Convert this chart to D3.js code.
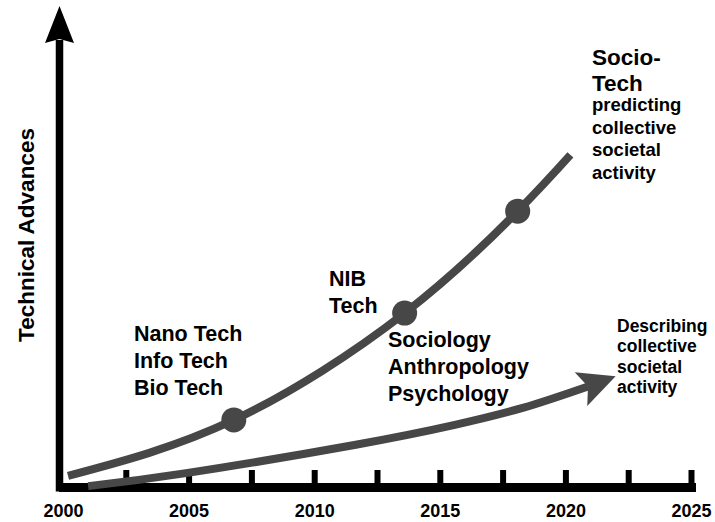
<!DOCTYPE html>
<html>
<head>
<meta charset="utf-8">
<script src="https://cdn.jsdelivr.net/npm/d3@7"></script>
<style>
    html, body { margin: 0; padding: 0; background: #fff; }
    svg { display: block; font-family: "Liberation Sans", Arial, Helvetica, sans-serif; font-weight: bold; }
</style>
</head>
<body>
<div id="chart"></div>
<script>
// chart values
const labelYears = [2000, 2005, 2010, 2015, 2020, 2025];
const tickYears = [2002.5, 2005, 2007.5, 2010, 2012.5, 2015, 2017.5, 2020, 2022.5, 2025];

// upper curve: socio-tech advances
const upperYears = [2000.2, 2006.8, 2013.6, 2018.1, 2020.2];
const upperValues = [2.5, 15.0, 38.9, 61.7, 74.3];
const milestoneYears = [2006.8, 2013.6, 2018.1];
const milestoneValues = [15.0, 38.9, 61.7];

// lower curve: describing collective activity (ends in an arrow)
const lowerYears = [2001.0, 2004.9, 2011.6, 2015.6, 2018.3, 2020.9];
const lowerValues = [0.2, 3.1, 9.4, 13.9, 17.7, 22.5];
const arrowTip = [2022.0, 24.8];

const yTitle = "Technical Advances";
const nanoLines = ["Nano Tech", "Info Tech", "Bio Tech"];
const nibLines = ["NIB", "Tech"];
const socialLines = ["Sociology", "Anthropology", "Psychology"];
const socioTitle = ["Socio-", "Tech"];
const socioLines = ["predicting", "collective", "societal", "activity"];
const describeLines = ["Describing", "collective", "societal", "activity"];

const width = 715;
const height = 522;
const curveColor = "#474747";

const svg = d3.select("#chart")
    .append("svg")
    .attr("width", width)
    .attr("height", height);

// scales
const x = d3.scaleLinear()
    .domain([2000, 2025])
    .range([63, 691]);
const y = d3.scaleLinear()
    .domain([0, 100])
    .range([487, 40]);

// y axis: thick bar with arrow head
const axisX = x.range()[0] - 3.5;
svg.append("line")
    .attr("x1", axisX)
    .attr("x2", axisX)
    .attr("y1", y(0) + 4.5)
    .attr("y2", y(100))
    .attr("stroke", "#000")
    .attr("stroke-width", 7.5);
svg.append("path")
    .attr("d", `M${axisX},6 L${axisX + 14.5},43 L${axisX},39 L${axisX - 14.5},43 Z`)
    .attr("fill", "#000");

// x axis: tick marks pointing up
const tickAxis = svg.append("g")
    .attr("transform", `translate(0,${y(0)})`)
    .call(d3.axisBottom(x)
        .tickValues(tickYears)
        .tickFormat("")
        .tickSizeInner(-17)
        .tickSizeOuter(0));
tickAxis.select(".domain")
    .attr("stroke", "#000")
    .attr("stroke-width", 9)
    .attr("stroke-linecap", "square");
tickAxis.selectAll(".tick line")
    .attr("stroke", "#000")
    .attr("stroke-width", 6);

// x axis labels
const labelAxis = svg.append("g")
    .attr("transform", `translate(0,${y(0)})`)
    .call(d3.axisBottom(x)
        .tickValues(labelYears)
        .tickFormat(d3.format("d"))
        .tickSize(0)
        .tickPadding(17));
labelAxis.select(".domain").remove();
labelAxis.selectAll(".tick text")
    .attr("fill", "#000")
    .attr("font-size", 18)
    .attr("font-weight", "bold")
    .attr("font-family", "'Liberation Sans', Arial, sans-serif");

// y title
svg.append("text")
    .attr("transform", "translate(34,235) rotate(-90)")
    .attr("text-anchor", "middle")
    .attr("font-size", 22.5)
    .attr("fill", "#000")
    .text(yTitle);

// curves
const line = d3.line()
    .x(d => x(d[0]))
    .y(d => y(d[1]))
    .curve(d3.curveNatural);

svg.append("path")
    .datum(d3.zip(upperYears, upperValues))
    .attr("d", line)
    .attr("fill", "none")
    .attr("stroke", curveColor)
    .attr("stroke-width", 8);

svg.selectAll(".milestone")
    .data(d3.zip(milestoneYears, milestoneValues))
    .join("circle")
    .attr("class", "milestone")
    .attr("cx", d => x(d[0]))
    .attr("cy", d => y(d[1]))
    .attr("r", 12.5)
    .attr("fill", curveColor);

const lowerData = d3.zip(lowerYears, lowerValues);
svg.append("path")
    .datum(lowerData)
    .attr("d", line)
    .attr("fill", "none")
    .attr("stroke", curveColor)
    .attr("stroke-width", 8);

// arrow head for the lower curve
const notch = lowerData[lowerData.length - 1];
const tx = x(arrowTip[0]), ty = y(arrowTip[1]);
const nx = x(notch[0]), ny = y(notch[1]);
const len = Math.hypot(tx - nx, ty - ny);
const ux = (tx - nx) / len, uy = (ty - ny) / len;
const back = 37, half = 18;
const bx = tx - ux * back, by = ty - uy * back;
svg.append("path")
    .attr("d", `M${tx},${ty} L${bx - uy * half},${by + ux * half} L${nx},${ny} L${bx + uy * half},${by - ux * half} Z`)
    .attr("fill", curveColor);

// annotations
function block(lines, px, py, size, gap) {
    const t = svg.append("text")
        .attr("font-size", size)
        .attr("fill", "#000");
    t.selectAll("tspan")
        .data(lines)
        .join("tspan")
        .attr("x", px)
        .attr("y", (d, i) => py + i * gap)
        .text(d => d);
}

block(nanoLines, 134, 341, 21.5, 27);
block(nibLines, 329, 286, 21.5, 27);
block(socialLines, 388, 347, 21.5, 27);
block(socioTitle, 592, 65, 22.5, 26);
block(socioLines, 592, 111, 18.5, 22.7);
block(describeLines, 617, 332, 17.5, 20.3);
</script>
</body>
</html>
